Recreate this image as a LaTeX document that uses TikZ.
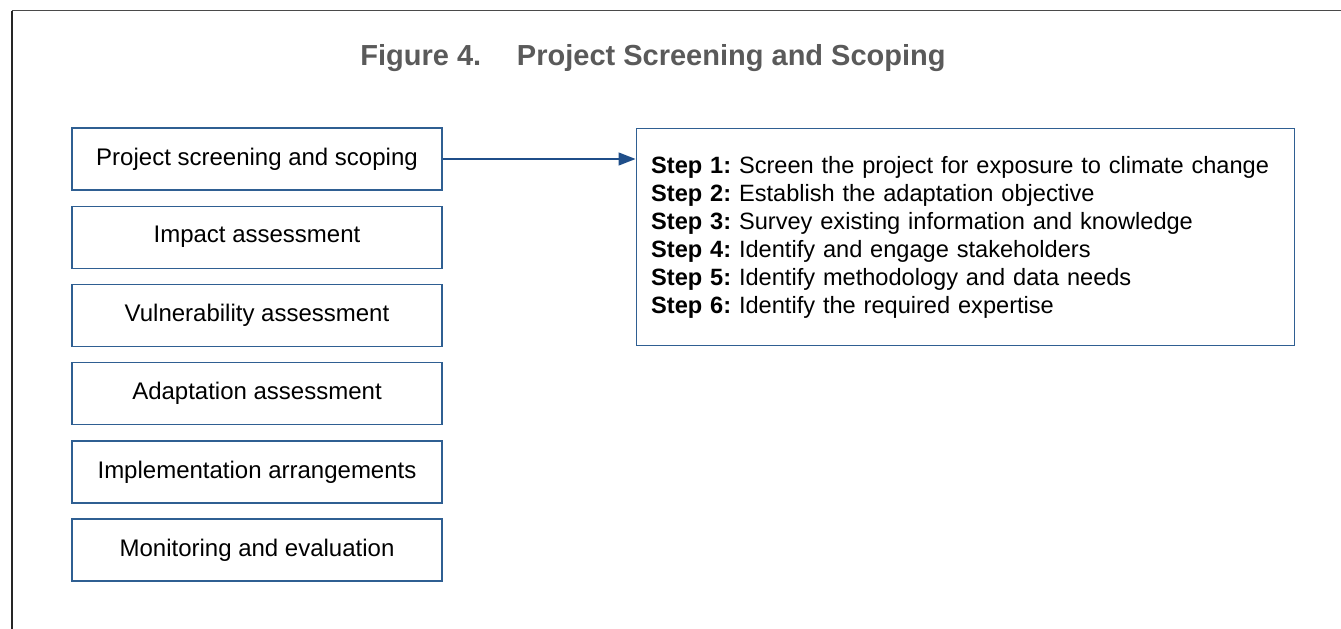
\documentclass[tikz,border=0pt]{standalone}
\usepackage{fontspec}
\setmainfont{Liberation Sans}
\usetikzlibrary{arrows.meta}

\definecolor{boxblue}{HTML}{2F5F92}
\definecolor{arrowblue}{HTML}{1F4E89}
\definecolor{titlegray}{HTML}{5A5A5A}
\definecolor{framegray}{HTML}{4A4A4A}

\tikzset{
  stagebox/.style={draw=boxblue, line width=1.4pt, fill=white,
    minimum width=370pt, minimum height=62pt, inner sep=0pt,
    font=\fontsize{24}{27}\selectfont},
  stepsbox/.style={draw=boxblue, line width=1.4pt, fill=white,
    anchor=north west, minimum width=658pt, minimum height=217.5pt,
    text width=628pt, inner xsep=15pt, inner ysep=0pt, align=left,
    font=\frenchspacing\fontsize{23.6}{28}\selectfont},
  flowarrow/.style={draw=arrowblue, line width=1.4pt,
    -{Triangle[length=17pt, width=13pt]}},
  titletext/.style={text=titlegray, font=\bfseries\fontsize{29}{32}\selectfont}
}

\begin{document}
\begin{tikzpicture}[x=1pt, y=-1pt]
  \useasboundingbox (0,0) rectangle (1341,629);

  % open frame: top and left rules only
  \draw[framegray, line width=1.5pt] (11.5,10.5) -- (1341,10.5);
  \draw[black!85, line width=2pt] (11.5,10.5) -- (11.5,629);

  % heading
  \node[titletext] (title) at (653,58) {Figure 4.\hspace{25pt} Project Screening and Scoping};

  % stages of the assessment
  \node[stagebox] (s1) at (257,159) {Project screening and scoping};
  \node[stagebox] (s2) at (257,237.2) {Impact assessment};
  \node[stagebox] (s3) at (257,315.4) {Vulnerability assessment};
  \node[stagebox] (s4) at (257,393.6) {Adaptation assessment};
  \node[stagebox] (s5) at (257,471.8) {Implementation arrangements};
  \node[stagebox] (s6) at (257,550.0) {Monitoring and evaluation};

  % steps of screening and scoping
  \node[stepsbox] (steps) at (635.5,127.5) {%
    \textbf{Step 1:} Screen the project for exposure to climate change\\
    \textbf{Step 2:} Establish the adaptation objective\\
    \textbf{Step 3:} Survey existing information and knowledge\\
    \textbf{Step 4:} Identify and engage stakeholders\\
    \textbf{Step 5:} Identify methodology and data needs\\
    \textbf{Step 6:} Identify the required expertise};

  \draw[flowarrow] (s1.east) -- (s1.east -| steps.west);
\end{tikzpicture}
\end{document}
